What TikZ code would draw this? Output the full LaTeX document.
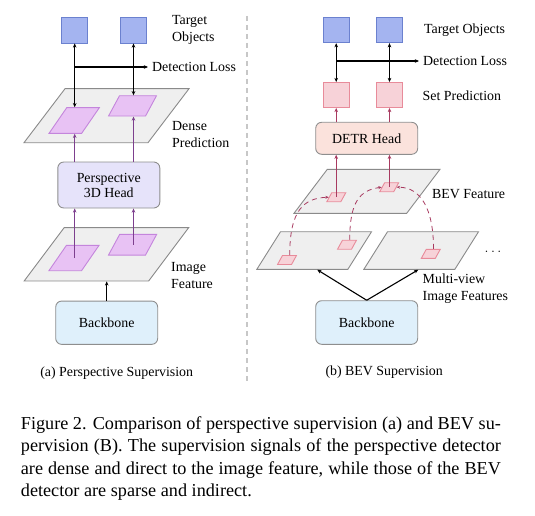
\documentclass[tikz,border=0pt]{standalone}
\usepackage{fontspec}
\setmainfont{Liberation Serif}
\usepackage{tikz}
\usetikzlibrary{positioning, calc, arrows.meta}

\definecolor{tgtfill}{HTML}{A4B4F0}
\definecolor{tgtline}{HTML}{6B81CF}
\definecolor{planefill}{HTML}{EFEFEF}
\definecolor{planeline}{HTML}{8A8A8A}
\definecolor{purfill}{HTML}{E8C2F4}
\definecolor{purline}{HTML}{C485DC}
\definecolor{purarrow}{HTML}{7D3F8E}
\definecolor{headfill}{HTML}{E6E3FA}
\definecolor{bonefill}{HTML}{DFF0FB}
\definecolor{boxline}{HTML}{8E8E8E}
\definecolor{pinkfill}{HTML}{F7D2D8}
\definecolor{pinkline}{HTML}{E88B9A}
\definecolor{detrfill}{HTML}{FBE2DC}
\definecolor{crimson}{HTML}{A83A60}

\begin{document}
\begin{tikzpicture}[x=1pt, y=-1pt,
        every node/.style={font=\fontsize{13.9}{17}\selectfont},
        >={Stealth[length=4.2pt, width=3.6pt]},
        target/.style={draw=tgtline, fill=tgtfill, line width=0.9pt, minimum width=26pt, minimum height=26pt, inner sep=0pt},
        setpred/.style={draw=pinkline, fill=pinkfill, line width=0.9pt, minimum width=26pt, minimum height=25pt, inner sep=0pt},
        plane/.style={draw=planeline, fill=planefill, line width=0.9pt, inner sep=0pt, transform shape},
        purplane/.style={draw=purline, fill=purfill, line width=0.9pt, inner sep=0pt, transform shape},
        pinkplane/.style={draw=pinkline, fill=pinkfill, line width=0.9pt, inner sep=0pt, transform shape, minimum width=14pt, minimum height=9pt, xslant=0.55},
        block/.style={draw=boxline, line width=0.9pt, rounded corners=6pt, minimum width=102pt, align=center},
        lbl/.style={align=left, inner sep=1pt},
        loss/.style={->, line width=1.1pt},
        parr/.style={->, draw=purarrow, line width=0.8pt},
        carr/.style={->, draw=crimson, line width=0.8pt},
        cdash/.style={-{Stealth[length=3.5pt, width=3pt]}, draw=crimson, line width=0.8pt, dash pattern=on 5pt off 4pt}]
        \useasboundingbox (0,0) rectangle (535,516);

        % (a) perspective supervision
        \node[target] (tgtA) at (74.7,30) {};
        \node[target] (tgtB) at (133.5,30) {};
        \node[lbl, right = 24pt of tgtB] (lblTgtA) {Target\\Objects};

        \node[plane, minimum width=124pt, minimum height=54pt, xslant=0.76] (denseP) at (106.5,115.7) {};
        \node[purplane, minimum width=32.6pt, minimum height=25.6pt, xslant=0.69] (pa1) at (74.2,120.5) {};
        \node[purplane, minimum width=37pt, minimum height=20.3pt, xslant=0.54] (pa2) at (132.5,105.9) {};
        \node[lbl, anchor=west] (lblDense) at (171,135) {Dense\\Prediction};

        \node[lbl, anchor=west] (lossA) at (151,67) {Detection Loss};
        \draw[<->, line width=1.1pt] (tgtA.south) -- (tgtA.south |- pa1.north);
        \draw[<->, line width=1.1pt] (tgtB.south) -- (tgtB.south |- pa2.north);
        \draw[loss, shorten >=3pt] (tgtA.south |- lossA.west) -- (lossA.west);

        \node[block, fill=headfill, minimum height=46pt] (headA) at (108.8,185) {Perspective\\[-2pt]3D Head};
        \draw[parr] (headA.north -| tgtA.south) -- (tgtA.south |- pa1.south);
        \draw[parr] (headA.north -| tgtB.south) -- (tgtB.south |- pa2.south);

        \node[plane, minimum width=124.5pt, minimum height=53.3pt, xslant=0.75] (imgP) at (106.4,254.3) {};
        \node[purplane, minimum width=32.6pt, minimum height=25.4pt, xslant=0.69] (pb1) at (74,258) {};
        \node[purplane, minimum width=37pt, minimum height=20.7pt, xslant=0.54] (pb2) at (132.6,244.7) {};
        \node[lbl, anchor=west] (lblImg) at (170,276) {Image\\Feature};
        \draw[parr] (tgtA.south |- pb1.center) -- (tgtA.south |- headA.south);
        \draw[parr] (tgtB.south |- pb2.center) -- (tgtB.south |- headA.south);

        \node[block, fill=bonefill, minimum height=43.3pt] (boneA) at (106.7,322.7) {Backbone};
        \draw[->, line width=1.1pt] (boneA.north) -- (boneA.north |- imgP.south);
        \node (capA) at (116.7,373.3) {(a) Perspective Supervision};

        \coordinate (divTop) at (246.7,16);
        \coordinate (divBot) at (246.7,383);
        \draw[draw=black!22, line width=1.8pt, dash pattern=on 5pt off 4pt] (divTop) -- (divBot);

        % (b) BEV supervision
        \node[target, minimum height=25pt] (tgtC) at (336.2,30.2) {};
        \node[target, minimum height=25pt] (tgtD) at (389.5,30.2) {};
        \node[lbl, right = 20pt of tgtD] (lblTgtB) {Target Objects};
        \node[setpred] (spC) at (336.2,95) {};
        \node[setpred] (spD) at (389.5,95) {};
        \node[lbl, anchor=west] (lblSet) at (421.5,95.7) {Set Prediction};

        \node[lbl, anchor=west] (lossB) at (422,61) {Detection Loss};
        \draw[<->, line width=1.1pt] (tgtC.south) -- (spC.north);
        \draw[<->, line width=1.1pt] (tgtD.south) -- (spD.north);
        \draw[loss, shorten >=3pt] (tgtC.south |- lossB.west) -- (lossB.west);

        \node[block, fill=detrfill, minimum height=32pt] (detr) at (366.7,138.3) {DETR Head};
        \draw[carr] (detr.north -| spC.south) -- (spC.south);
        \draw[carr] (detr.north -| spD.south) -- (spD.south);

        \node[plane, minimum width=112.7pt, minimum height=44pt, xslant=0.757] (bevP) at (367,191.3) {};
        \node[pinkplane] (qc1) at (336.3,197.2) {};
        \node[pinkplane] (qc2) at (389.2,187.2) {};
        \node[lbl, anchor=west] (lblBev) at (431,194.3) {BEV Feature};
        \draw[carr] (spC.south |- qc1.center) -- (spC.south |- detr.south);
        \draw[carr] (spD.south |- qc2.center) -- (spD.south |- detr.south);

        \node[plane, minimum width=91pt, minimum height=37.6pt, xslant=0.63] (mvL) at (314.2,250.5) {};
        \node[plane, minimum width=91pt, minimum height=37.6pt, xslant=0.63] (mvR) at (421.2,250.5) {};
        \node (dots) at (493,252) {$\dots$};
        \node[pinkplane] (ma) at (287,260) {};
        \node[pinkplane] (mb) at (347,244.7) {};
        \node[pinkplane] (mc) at (430.8,253.8) {};

        \draw[cdash] (ma.north) .. controls +(0,-45) and +(-25,1) .. (qc1.west);
        \draw[cdash] (mb.north) .. controls +(0,-38) and +(-22,3) .. (qc2.west);
        \draw[cdash] (mc.north) .. controls +(0,-40) and +(24,0) .. (qc2.east);

        \node[lbl, anchor=west] (lblMv) at (421.5,289) {Multi-view\\Image Features};
        \node[block, fill=bonefill, minimum height=43.6pt] (boneB) at (366.7,322.5) {Backbone};
        \draw[->, line width=1.1pt] (boneB.north) -- ($(mvL.south)!0.33!(mvL.south east)$);
        \draw[->, line width=1.1pt] (boneB.north) -- ($(mvR.south)!0.2!(mvR.south east)$);
        \node (capB) at (384.2,371.7) {(b) BEV Supervision};

        % figure caption
        \node[anchor=north west, inner sep=0pt, text width=480pt, align=justify, font=\fontsize{18.2}{22.6}\selectfont] (caption) at (20.7,416) {Figure 2. Comparison of perspective supervision (a) and BEV su-\linebreak pervision (B). The supervision signals of the perspective detector are dense and direct to the image feature, while those of the BEV detector are sparse and indirect.};
\end{tikzpicture}
\end{document}
